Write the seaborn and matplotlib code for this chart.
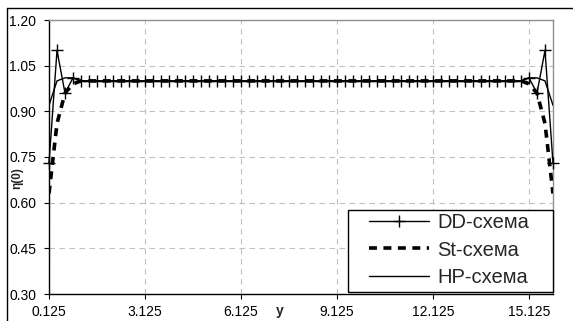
import numpy as np
import pandas as pd
import matplotlib
matplotlib.use("Agg")
import matplotlib.pyplot as plt
import seaborn as sns
from matplotlib.lines import Line2D
from matplotlib.patches import Rectangle

sns.set_style("white")
plt.rcParams['font.family'] = ['Liberation Sans', 'DejaVu Sans']

# positions y (step 0.25 from 0.125 to 15.875)
y_pos = [0.125, 0.375, 0.625, 0.875, 1.125, 1.375, 1.625, 1.875,
         2.125, 2.375, 2.625, 2.875, 3.125, 3.375, 3.625, 3.875,
         4.125, 4.375, 4.625, 4.875, 5.125, 5.375, 5.625, 5.875,
         6.125, 6.375, 6.625, 6.875, 7.125, 7.375, 7.625, 7.875,
         8.125, 8.375, 8.625, 8.875, 9.125, 9.375, 9.625, 9.875,
         10.125, 10.375, 10.625, 10.875, 11.125, 11.375, 11.625, 11.875,
         12.125, 12.375, 12.625, 12.875, 13.125, 13.375, 13.625, 13.875,
         14.125, 14.375, 14.625, 14.875, 15.125, 15.375, 15.625, 15.875]

dd_values = [0.73, 1.10, 0.96, 1.01, 1.00, 1.00, 1.00, 1.00,
             1.00, 1.00, 1.00, 1.00, 1.00, 1.00, 1.00, 1.00,
             1.00, 1.00, 1.00, 1.00, 1.00, 1.00, 1.00, 1.00,
             1.00, 1.00, 1.00, 1.00, 1.00, 1.00, 1.00, 1.00,
             1.00, 1.00, 1.00, 1.00, 1.00, 1.00, 1.00, 1.00,
             1.00, 1.00, 1.00, 1.00, 1.00, 1.00, 1.00, 1.00,
             1.00, 1.00, 1.00, 1.00, 1.00, 1.00, 1.00, 1.00,
             1.00, 1.00, 1.00, 1.00, 1.01, 0.96, 1.10, 0.73]

st_values = [0.63, 0.86, 0.96, 0.99, 1.00, 1.00, 1.00, 1.00,
             1.00, 1.00, 1.00, 1.00, 1.00, 1.00, 1.00, 1.00,
             1.00, 1.00, 1.00, 1.00, 1.00, 1.00, 1.00, 1.00,
             1.00, 1.00, 1.00, 1.00, 1.00, 1.00, 1.00, 1.00,
             1.00, 1.00, 1.00, 1.00, 1.00, 1.00, 1.00, 1.00,
             1.00, 1.00, 1.00, 1.00, 1.00, 1.00, 1.00, 1.00,
             1.00, 1.00, 1.00, 1.00, 1.00, 1.00, 1.00, 1.00,
             1.00, 1.00, 1.00, 1.00, 0.99, 0.96, 0.86, 0.63]

hp_values = [0.92, 1.00, 1.01, 1.01, 1.00, 1.00, 1.00, 1.00,
             1.00, 1.00, 1.00, 1.00, 1.00, 1.00, 1.00, 1.00,
             1.00, 1.00, 1.00, 1.00, 1.00, 1.00, 1.00, 1.00,
             1.00, 1.00, 1.00, 1.00, 1.00, 1.00, 1.00, 1.00,
             1.00, 1.00, 1.00, 1.00, 1.00, 1.00, 1.00, 1.00,
             1.00, 1.00, 1.00, 1.00, 1.00, 1.00, 1.00, 1.00,
             1.00, 1.00, 1.00, 1.00, 1.00, 1.00, 1.00, 1.00,
             1.00, 1.00, 1.00, 1.00, 1.01, 1.01, 1.00, 0.92]

series_labels = ["DD-схема", "St-схема", "HP-схема"]
x_ticks = [0.125, 3.125, 6.125, 9.125, 12.125, 15.125]
x_ticklabels = ["0.125", "3.125", "6.125", "9.125", "12.125", "15.125"]
y_ticks = [0.30, 0.45, 0.60, 0.75, 0.90, 1.05, 1.20]
y_ticklabels = ["0.30", "0.45", "0.60", "0.75", "0.90", "1.05", "1.20"]

W, H = 573, 321
fig = plt.figure(figsize=(W / 100, H / 100), dpi=100)
ax = fig.add_axes([49 / W, 1 - 294 / H, (553 - 49) / W, (294 - 20) / H])

sns.lineplot(x=y_pos, y=dd_values, ax=ax, color="black", lw=1.0,
             marker="+", markersize=8.5, markeredgewidth=1.0,
             markeredgecolor="black", markerfacecolor="black",
             label=series_labels[0], zorder=4, clip_on=False)
sns.lineplot(x=y_pos, y=st_values, ax=ax, color="black", lw=2.6,
             linestyle=(0, (2.2, 1.8)), label=series_labels[1], zorder=3)
sns.lineplot(x=y_pos, y=hp_values, ax=ax, color="black", lw=1.0,
             label=series_labels[2], zorder=3)

ax.set_xlim(0.125, 15.875)
ax.set_ylim(0.30, 1.20)
ax.set_xticks(x_ticks)
ax.set_xticklabels(x_ticklabels)
ax.set_yticks(y_ticks)
ax.set_yticklabels(y_ticklabels)
ax.tick_params(axis="both", direction="out", length=3.6, width=0.8,
               labelsize=10, colors="black", pad=5.5, bottom=True, left=True)
ax.tick_params(axis="x", pad=4)
ax.set_xlabel("")
ax.set_ylabel("")

ax.grid(True, color="#c0c0c0", linestyle=(0, (5, 4)), lw=0.8)
ax.set_axisbelow(True)

for s in ["left", "bottom"]:
    ax.spines[s].set_color("black")
    ax.spines[s].set_linewidth(1.0)
for s in ["top", "right"]:
    ax.spines[s].set_color("#909090")
    ax.spines[s].set_linewidth(1.0)

handles, labels = ax.get_legend_handles_labels()
ax.get_legend().remove()

# legend frame
fig.add_artist(Rectangle((348 / W, 1 - 292 / H), (553 - 348) / W, (292 - 210) / H,
                         transform=fig.transFigure, facecolor="white",
                         edgecolor="black", lw=1.0, zorder=1))
leg = fig.legend(handles, labels, loc="center left",
                 bbox_to_anchor=(369 / W, 1 - 250 / H),
                 bbox_transform=fig.transFigure,
                 fontsize=14.5, frameon=False, handlelength=3.0,
                 labelspacing=0.42, borderpad=0, borderaxespad=0,
                 handletextpad=0.4)
leg.set_zorder(5)

fig.text(17 / W, 1 - 178 / H, "η(0)", rotation=90, fontsize=8.5,
         fontweight="bold", ha="center", va="center")
fig.text(280 / W, 1 - 311 / H, "y", fontsize=10, fontweight="bold",
         ha="center", va="center")

# outer chart frame (top and left visible)
fig.add_artist(Line2D([7 / W, 7 / W], [0, 1 - 8 / H], color="black", lw=1.0,
                      transform=fig.transFigure))
fig.add_artist(Line2D([7 / W, 1], [1 - 8 / H, 1 - 8 / H], color="black", lw=1.0,
                      transform=fig.transFigure))

fig.savefig("out.png", dpi=100)
